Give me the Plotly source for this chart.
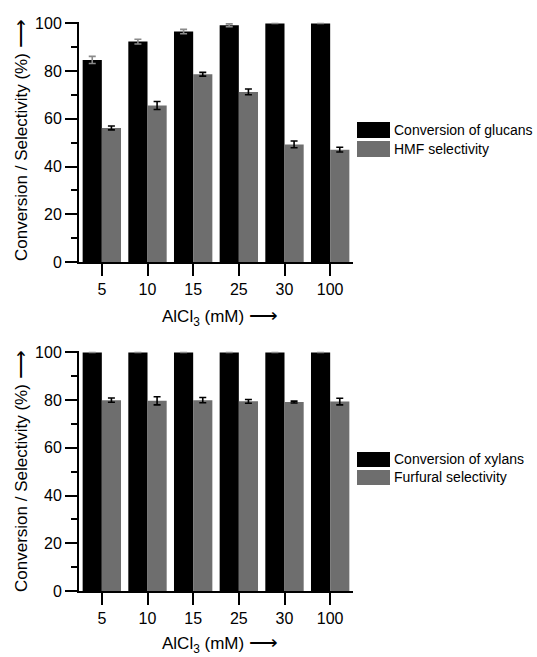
import plotly.graph_objects as go

categories = ["5", "10", "15", "25", "30", "100"]

glucan_conv = [84.7, 92.4, 96.6, 99.2, 100, 100]
glucan_conv_err = [1.5, 1.0, 0.9, 0.6, 0, 0]
hmf_sel = [56.2, 65.6, 78.7, 71.3, 49.3, 47.1]
hmf_sel_err = [0.8, 1.7, 0.8, 1.2, 1.4, 1.0]

xylan_conv = [100, 100, 100, 100, 100, 100]
xylan_conv_err = [0, 0, 0, 0, 0, 0]
furfural_sel = [80.0, 79.7, 80.0, 79.5, 79.2, 79.4]
furfural_sel_err = [0.9, 1.7, 1.1, 0.8, 0.4, 1.4]

legend_top = ["Conversion of glucans", "HMF selectivity"]
legend_bot = ["Conversion of xylans", "Furfural selectivity"]

BLACK = "#000000"
GRAY = "#6e6e6e"
FONT = "Arial, Liberation Sans, sans-serif"

W, H = 537, 657
L, R, T, B = 79, 353, 22, 591  # plot area pixel box


def px(x):
    return (x - L) / (R - L)


def py(y):
    return (B - y) / (B - T)


fig = go.Figure()

err_black = dict(type="data", color="#8a8a8a", thickness=1.6, width=3.5)
err_gray = dict(type="data", color="#000000", thickness=1.6, width=3.5)

fig.add_trace(go.Bar(x=categories, y=glucan_conv, marker_color=BLACK, marker_line_width=0,
                     error_y=dict(array=glucan_conv_err, **err_black), xaxis="x", yaxis="y",
                     name=legend_top[0], showlegend=False))
fig.add_trace(go.Bar(x=categories, y=hmf_sel, marker_color=GRAY, marker_line_width=0,
                     error_y=dict(array=hmf_sel_err, **err_gray), xaxis="x", yaxis="y",
                     name=legend_top[1], showlegend=False))
fig.add_trace(go.Bar(x=categories, y=xylan_conv, marker_color=BLACK, marker_line_width=0,
                     error_y=dict(array=xylan_conv_err, **err_black), xaxis="x2", yaxis="y2",
                     name=legend_bot[0], showlegend=False))
fig.add_trace(go.Bar(x=categories, y=furfural_sel, marker_color=GRAY, marker_line_width=0,
                     error_y=dict(array=furfural_sel_err, **err_gray), xaxis="x2", yaxis="y2",
                     name=legend_bot[1], showlegend=False))

top_dom = [py(262), 1.0]
bot_dom = [0.0, py(351)]

xcommon = dict(type="category", range=[-0.5, 5.5], showline=True, linecolor="black", linewidth=2,
               ticks="outside", ticklen=12, tickwidth=2, tickcolor="black",
               tickfont=dict(family=FONT, size=16, color="black"), showgrid=False, zeroline=False,
               domain=[0, 1], fixedrange=True)
ycommon = dict(range=[0, 100.6], showline=True, linecolor="black", linewidth=2,
               ticks="outside", ticklen=12, tickwidth=2, tickcolor="black", dtick=20, tick0=0,
               minor=dict(dtick=10, tick0=0, ticks="outside", ticklen=6, tickwidth=2, tickcolor="black"),
               tickfont=dict(family=FONT, size=16, color="black"), showgrid=False, zeroline=False,
               fixedrange=True)

fig.update_layout(
    width=W, height=H,
    margin=dict(l=L, r=W - R, t=T, b=H - B, autoexpand=False),
    paper_bgcolor="white", plot_bgcolor="white",
    barmode="group", bargap=0.16, bargroupgap=0.0,
    showlegend=False,
    xaxis=dict(anchor="y", **xcommon),
    yaxis=dict(anchor="x", domain=top_dom, **ycommon),
    xaxis2=dict(anchor="y2", **xcommon),
    yaxis2=dict(anchor="x2", domain=bot_dom, **ycommon),
)

shapes = []
annotations = []

# legends
for (names, rows) in [(legend_top, [(122, 138), (141, 157)]), (legend_bot, [(452, 467), (470, 485)])]:
    for name, (y0, y1), col in zip(names, rows, [BLACK, GRAY]):
        shapes.append(dict(type="rect", xref="paper", yref="paper", x0=px(357), x1=px(390),
                           y0=py(y1), y1=py(y0), fillcolor=col, line=dict(width=0)))
        annotations.append(dict(text=name, xref="paper", yref="paper", x=px(392), y=py((y0 + y1) / 2),
                                xanchor="left", yanchor="middle", showarrow=False,
                                font=dict(family=FONT, size=14, color="black")))

ARROW = "<span style='font-size:20px'>\u27f6</span>"
# axis titles
for yc, xt in [(140, 316), (471, 644)]:
    annotations.append(dict(text="Conversion / Selectivity (%) " + ARROW, xref="paper", yref="paper",
                            x=px(20), y=py(yc), xanchor="center", yanchor="middle", textangle=-90,
                            showarrow=False, font=dict(family=FONT, size=17, color="black")))
    annotations.append(dict(text="AlCl<sub>3</sub> (mM) " + ARROW, xref="paper", yref="paper",
                            x=px(220), y=py(xt), xanchor="center", yanchor="middle",
                            showarrow=False, font=dict(family=FONT, size=17, color="black")))

fig.update_layout(shapes=shapes, annotations=annotations)

fig.write_html("out.html", config={"displayModeBar": False},
               post_script="document.body.style.margin='0';document.body.style.overflow='hidden';")
